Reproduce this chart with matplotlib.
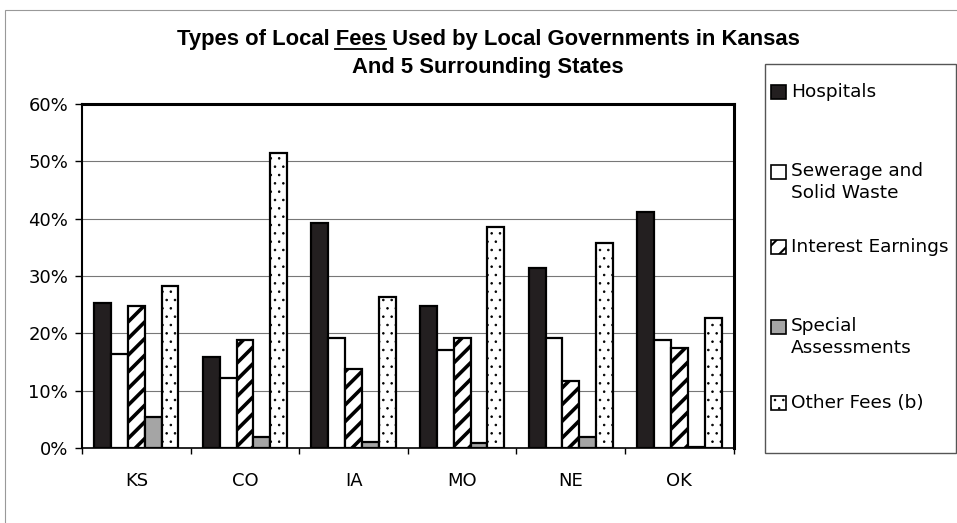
import matplotlib
matplotlib.use("Agg")
import matplotlib.pyplot as plt
import numpy as np
from matplotlib.patches import Rectangle
from matplotlib.lines import Line2D

# data (percent)
states = ["KS", "CO", "IA", "MO", "NE", "OK"]
fee_types = ["Hospitals", "Sewerage and\nSolid Waste", "Interest Earnings",
             "Special\nAssessments", "Other Fees (b)"]
hospitals = [25.2, 15.9, 39.3, 24.7, 31.3, 41.1]
sewerage = [16.4, 12.2, 19.2, 17.0, 19.2, 18.9]
interest = [24.8, 18.9, 13.8, 19.1, 11.7, 17.5]
special = [5.4, 1.9, 1.0, 0.8, 1.9, 0.2]
other = [28.3, 51.4, 26.4, 38.6, 35.7, 22.7]
yticks = [0, 10, 20, 30, 40, 50, 60]

series = [hospitals, sewerage, interest, special, other]
faces = ["#231f20", "white", "white", "#a5a5a5", "white"]
hatches = [None, None, "//", None, ".."]
hatch_lw = [1.0, 1.0, 2.6, 1.0, 0.6]

plt.rcParams["font.family"] = ["DejaVu Sans"]

fig = plt.figure(figsize=(9.57, 5.23), dpi=100)
ax = fig.add_axes([0.0857, 0.1434, 0.681, 0.658])

# outer chart frame
fig.patches.append(Rectangle((5 / 957, -0.1), 1.1, 1 - 10 / 523 + 0.1,
                             transform=fig.transFigure, fill=False,
                             edgecolor="#999999", lw=0.8))

x = np.arange(len(states))
w = 0.155
for i, vals in enumerate(series):
    with plt.rc_context({"hatch.linewidth": hatch_lw[i]}):
        ax.bar(x + (i - 2) * w, vals, width=w, color=faces[i], hatch=hatches[i],
               edgecolor="black", linewidth=1.6, zorder=3)

ax.set_xlim(-0.5, len(states) - 0.5)
ax.set_ylim(0, 60)
ax.set_yticks(yticks)
ax.set_yticklabels([f"{v}%" for v in yticks], fontsize=13)
ax.set_xticks(x)
ax.set_xticklabels(states, fontsize=13)
ax.set_xticks(np.arange(len(states) + 1) - 0.5, minor=True)
ax.tick_params(axis="x", which="major", length=0, pad=17)
ax.tick_params(axis="x", which="minor", length=4, width=1)
ax.tick_params(axis="y", length=5, width=1, pad=5)
ax.yaxis.grid(True, color="#777777", lw=0.8, zorder=0)
for s in ["top", "right"]:
    ax.spines[s].set_linewidth(2.2)
ax.spines["left"].set_linewidth(1.5)
ax.spines["bottom"].set_linewidth(1.2)

# title
title_font = dict(fontsize=15.8, fontweight="bold", family="Liberation Sans")
t1 = fig.text(488 / 957, 1 - 39 / 523, "Types of Local Fees Used by Local Governments in Kansas",
              ha="center", va="center", **title_font)
fig.text(488 / 957, 1 - 68 / 523, "And 5 Surrounding States",
         ha="center", va="center", **title_font)

# underline the word "Fees"
r = fig.canvas.get_renderer()
bb = t1.get_window_extent(r)
probe = fig.text(0, 0, "Types of Local ", **title_font)
w_pre = probe.get_window_extent(r).width
probe.set_text("Types of Local Fees")
w_fees = probe.get_window_extent(r).width
probe.remove()
yu = (bb.y0 + 1) / fig.bbox.height
fig.add_artist(Line2D([(bb.x0 + w_pre) / fig.bbox.width, (bb.x0 + w_fees) / fig.bbox.width],
                      [yu, yu], transform=fig.transFigure, color="black", lw=1.3))

# legend box
fig.patches.append(Rectangle((765 / 957, 1 - 453 / 523), 191 / 957, 389 / 523,
                             transform=fig.transFigure, fill=False,
                             edgecolor="#555555", lw=1.0))
label_y = [92, 182, 247, 337, 403]
for i, lab in enumerate(fee_types):
    first_y = label_y[i] - (10 if "\n" in lab else 0)
    with plt.rc_context({"hatch.linewidth": min(hatch_lw[i], 1.5)}):
        fig.patches.append(Rectangle((771 / 957, 1 - (first_y + 7) / 523), 15 / 957, 14 / 523,
                                     transform=fig.transFigure, facecolor=faces[i],
                                     hatch=hatches[i], edgecolor="black", lw=1.2))
    fig.text(791 / 957, 1 - label_y[i] / 523, lab, ha="left", va="center",
             fontsize=13.3, linespacing=1.3)

fig.savefig("out.png", dpi=100)
